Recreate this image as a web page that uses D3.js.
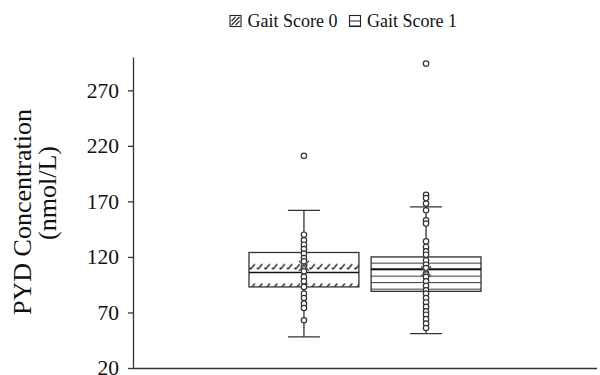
<!DOCTYPE html>
<html>
<head>
<meta charset="utf-8">
<script src="https://cdn.jsdelivr.net/npm/d3@7"></script>
<style>
  html, body { margin: 0; padding: 0; background: #fff; }
  svg { display: block; }
  text { font-family: "Liberation Serif", "Times New Roman", serif; }
</style>
</head>
<body>
<svg id="chart" width="600" height="375"></svg>
<script>
// ---- data ----
const category = [""];
const seriesNames = ["Gait Score 0", "Gait Score 1"];
const q1Values = [93, 89];
const medianValues = [106, 109];
const q3Values = [124, 120];
const meanValues = [112, 107];
const whiskerLow = [48, 51];
const whiskerHigh = [162, 165];
const pointsScore0 = [211, 140, 135, 131, 127, 123, 119, 116, 111, 107, 102, 98, 93, 87, 83, 78, 74, 63];
const pointsScore1 = [294, 176, 173, 168, 162, 153, 150, 134, 129, 125, 122, 117, 113, 110, 105, 102, 98, 94, 90, 87, 83, 79, 75, 71, 68, 64, 60, 56];
const yTicks = [20, 70, 120, 170, 220, 270];
const yTitle = ["PYD Concentration", "(nmol/L)"];

const pointsBySeries = [pointsScore0, pointsScore1];
const SERIF = "'Liberation Serif', 'Times New Roman', serif";

// ---- layout ----
const svg = d3.select("#chart");
const margin = { left: 133, right: 3, top: 57, bottom: 7 };
const W = 600, H = 375;
const ink = "#333";

const y = d3.scaleLinear().domain([20, 300]).range([H - margin.bottom, margin.top]);
const x0 = d3.scaleBand().domain(category).range([margin.left, W - margin.right]).paddingOuter(0.5).paddingInner(0);
const x1 = d3.scaleBand().domain(seriesNames).range([0, x0.bandwidth()]).paddingInner(0.1);

// ---- patterns ----
const defs = svg.append("defs");
const p0 = defs.append("pattern").attr("id", "hatch0").attr("patternUnits", "userSpaceOnUse")
  .attr("width", 7.5).attr("height", 19.5).attr("y", y(medianValues[0]));
p0.append("path").attr("d", "M1,15.5 L2.2,15.5 L5.5,11.5 M4.5,12.5 L6,11.3")
  .attr("stroke", "#111").attr("stroke-width", 1.3).attr("fill", "none");
p0.append("rect").attr("x", 0.4).attr("y", 14.6).attr("width", 1.6).attr("height", 1.6).attr("fill", "#000");

const p1 = defs.append("pattern").attr("id", "hatch1").attr("patternUnits", "userSpaceOnUse")
  .attr("width", 10).attr("height", 6.5).attr("y", y(medianValues[1]));
p1.append("line").attr("x1", 0).attr("x2", 10).attr("y1", 0.5).attr("y2", 0.5)
  .attr("stroke", "#333").attr("stroke-width", 1);

const patterns = ["url(#hatch0)", "url(#hatch1)"];

// ---- legend ----
const legend = svg.append("g").attr("font-size", 18).attr("fill", "#111");
const lg = legend.selectAll("g.item").data(seriesNames).join("g").attr("class", "item");
lg.append("rect").attr("width", 11).attr("height", 11).attr("x", 0.5).attr("y", 15.5)
  .attr("fill", "#fff").attr("stroke", "#222").attr("stroke-width", 1.1);
lg.append("path")
  .attr("d", (d, i) => i === 0 ? "M2,25 L10,17 M2,21 L6,17 M6,25 L10,21" : "M0.5,21 L11.5,21 M0.5,26 L11.5,26")
  .attr("stroke", "#222").attr("stroke-width", 1.1).attr("fill", "none");
lg.append("text").attr("x", 18).attr("y", 27).attr("font-family", SERIF).text(d => d);
const widths = [];
lg.each(function () { widths.push(this.getBBox().width); });
const gap = 12;
const total = d3.sum(widths) + gap * (widths.length - 1);
let lx = 343 - total / 2;
lg.attr("transform", (d, i) => {
  const t = `translate(${lx},0)`;
  lx += widths[i] + gap;
  return t;
});

// ---- axes ----
const yAxis = svg.append("g").attr("transform", `translate(${margin.left},0)`)
  .call(d3.axisLeft(y).tickValues(yTicks).tickSize(5).tickPadding(9).tickSizeOuter(0));
yAxis.attr("font-family", SERIF);
yAxis.select(".domain").attr("stroke", ink).attr("stroke-width", 1.3);
yAxis.selectAll(".tick line").attr("stroke", ink).attr("stroke-width", 1.3);
yAxis.selectAll(".tick text").attr("font-size", 21.5).attr("fill", "#111").attr("font-family", SERIF);

const xAxis = svg.append("g").attr("transform", `translate(0,${y(20)})`)
  .call(d3.axisBottom(x0).tickSize(0).tickSizeOuter(0).tickFormat(""));
xAxis.select(".domain").attr("stroke", ink).attr("stroke-width", 1.3)
  .attr("d", `M${margin.left},0.5H${W - margin.right}`);

// y title (two lines, rotated)
const titleCenters = [212, 193];
svg.append("g").selectAll("text").data(yTitle).join("text")
  .attr("transform", (d, i) => `translate(${31 + i * 25},${titleCenters[i]}) rotate(-90)`)
  .attr("text-anchor", "middle").attr("font-size", 26).attr("fill", "#111").attr("font-family", SERIF)
  .text(d => d);

// ---- boxes ----
const groups = svg.append("g").selectAll("g.box").data(seriesNames).join("g").attr("class", "box")
  .attr("transform", d => `translate(${x0("") + x1(d)},0)`);

const bw = x1.bandwidth();
const cx = bw / 2;
const capW = 32;

// whiskers
groups.append("line").attr("x1", cx).attr("x2", cx)
  .attr("y1", (d, i) => y(whiskerHigh[i])).attr("y2", (d, i) => y(q3Values[i]))
  .attr("stroke", ink).attr("stroke-width", 1.3);
groups.append("line").attr("x1", cx).attr("x2", cx)
  .attr("y1", (d, i) => y(q1Values[i])).attr("y2", (d, i) => y(whiskerLow[i]))
  .attr("stroke", ink).attr("stroke-width", 1.3);
groups.append("line").attr("x1", cx - capW / 2).attr("x2", cx + capW / 2)
  .attr("y1", (d, i) => y(whiskerHigh[i])).attr("y2", (d, i) => y(whiskerHigh[i]))
  .attr("stroke", ink).attr("stroke-width", 1.3);
groups.append("line").attr("x1", cx - capW / 2).attr("x2", cx + capW / 2)
  .attr("y1", (d, i) => y(whiskerLow[i])).attr("y2", (d, i) => y(whiskerLow[i]))
  .attr("stroke", ink).attr("stroke-width", 1.3);

// box
groups.append("rect").attr("x", 0).attr("width", bw)
  .attr("y", (d, i) => y(q3Values[i])).attr("height", (d, i) => y(q1Values[i]) - y(q3Values[i]))
  .attr("fill", "#fff").attr("stroke", "none");
groups.append("rect").attr("x", 0).attr("width", bw)
  .attr("y", (d, i) => y(q3Values[i])).attr("height", (d, i) => y(q1Values[i]) - y(q3Values[i]))
  .attr("fill", (d, i) => patterns[i]).attr("stroke", ink).attr("stroke-width", 1.3);
// median
groups.append("line").attr("x1", 0).attr("x2", bw)
  .attr("y1", (d, i) => y(medianValues[i])).attr("y2", (d, i) => y(medianValues[i]))
  .attr("stroke", "#111").attr("stroke-width", (d, i) => i === 0 ? 1.5 : 2);

// points
groups.selectAll("circle").data((d, i) => pointsBySeries[i]).join("circle")
  .attr("cx", cx).attr("cy", v => y(v)).attr("r", 2.7)
  .attr("fill", "#fff").attr("stroke", "#333").attr("stroke-width", 1.2);

// mean marker (x)
const ms = 5;
groups.append("path")
  .attr("d", (d, i) => {
    const my = y(meanValues[i]);
    return `M${cx - ms},${my - ms}L${cx + ms},${my + ms}M${cx - ms},${my + ms}L${cx + ms},${my - ms}`;
  })
  .attr("stroke", "#555").attr("stroke-width", 1.4);
</script>
</body>
</html>
